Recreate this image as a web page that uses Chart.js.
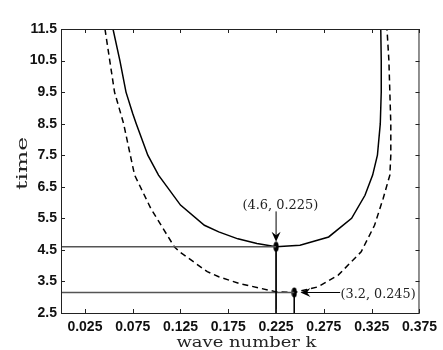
<!DOCTYPE html>
<html>
<head>
<meta charset="utf-8">
<script src="https://cdn.jsdelivr.net/npm/chart.js@4.4.1/dist/chart.umd.min.js"></script>
<style>
html, body { margin:0; padding:0; background:#fff; }
#wrap { width:443px; height:350px; position:relative; }
</style>
</head>
<body>
<div id="wrap"><canvas id="chart"></canvas></div>
<script>
// solid curve
var kSolid    = [0.0544, 0.0616, 0.0680, 0.075, 0.0787, 0.0908, 0.102, 0.125, 0.150, 0.165, 0.185, 0.205, 0.225, 0.250, 0.280, 0.304, 0.318, 0.326, 0.331, 0.334, 0.335, 0.335, 0.3345];
var timeSolid = [11.5, 10.5, 9.5, 8.82, 8.5, 7.5, 6.87, 5.92, 5.28, 5.07, 4.85, 4.7, 4.6, 4.65, 4.91, 5.5, 6.23, 6.87, 7.5, 8.5, 9.5, 10.5, 11.5];
// dashed curve
var kDashed    = [0.046, 0.051, 0.056, 0.0655, 0.0725, 0.077, 0.094, 0.1185, 0.124, 0.153, 0.165, 0.186, 0.225, 0.244, 0.269, 0.290, 0.314, 0.328, 0.337, 0.344, 0.345, 0.345, 0.344, 0.343, 0.341];
var timeDashed = [11.5, 10.5, 9.5, 8.5, 7.5, 6.87, 5.81, 4.6, 4.44, 3.81, 3.65, 3.44, 3.17, 3.15, 3.33, 3.7, 4.44, 5.28, 6.13, 6.87, 7.5, 8.5, 9.5, 10.5, 11.5];
// marked minima
var markK      = [0.225, 0.244];
var markTime   = [4.6, 3.15];
var markLabels = ["(4.6, 0.225)", "(3.2, 0.245)"];
// ticks
var xTicks = [0.025, 0.075, 0.125, 0.175, 0.225, 0.275, 0.325, 0.375];
var yTicks = [2.5, 3.5, 4.5, 5.5, 6.5, 7.5, 8.5, 9.5, 10.5, 11.5];

var xMin = 0, xMax = 0.375, yMin = 2.5, yMax = 11.5;

function toPoints(xs, ys) {
    var pts = [];
    for (var i = 0; i < xs.length; i++) pts.push({x: xs[i], y: ys[i]});
    return pts;
}

// little upright ellipse for the marked points
var dot = document.createElement("canvas");
dot.width = 6; dot.height = 11;
(function() {
    var c = dot.getContext("2d");
    c.fillStyle = "#000";
    c.beginPath();
    c.ellipse(3, 5.5, 2.6, 5, 0, 0, Math.PI * 2);
    c.fill();
})();

var datasets = [];
for (var i = 0; i < markK.length; i++) {
    datasets.push({
        data: [{x: xMin, y: markTime[i]}, {x: markK[i], y: markTime[i]}],
        borderColor: "#555", borderWidth: 1.3, pointRadius: 0, showLine: true
    });
    datasets.push({
        data: [{x: markK[i], y: markTime[i]}, {x: markK[i], y: yMin}],
        borderColor: "#000", borderWidth: 1, pointRadius: 0, showLine: true
    });
}
datasets.push({
    data: toPoints(kSolid, timeSolid),
    borderColor: "#000", borderWidth: 1.5, pointRadius: 0, showLine: true, tension: 0
});
datasets.push({
    data: toPoints(kDashed, timeDashed),
    borderColor: "#000", borderWidth: 1.5, borderDash: [6, 4], pointRadius: 0, showLine: true, tension: 0
});
datasets.push({
    data: toPoints(markK, markTime),
    pointStyle: dot, pointRadius: 5, showLine: false
});

function arrow(ctx, x1, y1, x2, y2) {
    var a = Math.atan2(y2 - y1, x2 - x1);
    ctx.beginPath();
    ctx.moveTo(x1, y1);
    ctx.lineTo(x2 - Math.cos(a) * 5, y2 - Math.sin(a) * 5);
    ctx.stroke();
    ctx.save();
    ctx.translate(x2, y2);
    ctx.rotate(a);
    ctx.beginPath();
    ctx.moveTo(0, 0);
    ctx.lineTo(-10, -4.5);
    ctx.lineTo(-6.5, 0);
    ctx.lineTo(-10, 4.5);
    ctx.closePath();
    ctx.fill();
    ctx.restore();
}

function fitText(ctx, text, x, y, width, align) {
    var w = ctx.measureText(text).width;
    var s = width / w;
    ctx.save();
    ctx.translate(x, y);
    ctx.scale(s, 1);
    ctx.textAlign = align;
    ctx.fillText(text, 0, 0);
    ctx.restore();
}

var decor = {
    id: "decor",
    afterDatasetsDraw: function(chart) {
        var ctx = chart.ctx, a = chart.chartArea;
        var xs = chart.scales.x, ys = chart.scales.y;
        ctx.save();
        // box and inward ticks
        ctx.strokeStyle = "#222";
        ctx.lineWidth = 1;
        ctx.strokeRect(a.left + 0.5, a.top + 0.5, a.right - a.left - 1, a.bottom - a.top);
        ctx.beginPath();
        xTicks.forEach(function(v) {
            var p = Math.round(xs.getPixelForValue(v)) + 0.5;
            ctx.moveTo(p, a.bottom); ctx.lineTo(p, a.bottom - 4);
            ctx.moveTo(p, a.top); ctx.lineTo(p, a.top + 4);
        });
        yTicks.forEach(function(v) {
            var p = Math.round(ys.getPixelForValue(v)) + 0.5;
            ctx.moveTo(a.left, p); ctx.lineTo(a.left + 4, p);
            ctx.moveTo(a.right, p); ctx.lineTo(a.right - 4, p);
        });
        ctx.stroke();

        // annotations
        ctx.strokeStyle = "#000";
        ctx.fillStyle = "#000";
        ctx.lineWidth = 1;
        var px0 = xs.getPixelForValue(markK[0]);
        arrow(ctx, px0, ys.getPixelForValue(5.72), px0, ys.getPixelForValue(4.76));
        var py1 = ys.getPixelForValue(markTime[1]);
        arrow(ctx, xs.getPixelForValue(0.292), py1, xs.getPixelForValue(0.2505), py1);

        ctx.fillStyle = "#222";
        ctx.font = "13px 'DejaVu Serif'";
        ctx.textBaseline = "alphabetic";
        fitText(ctx, markLabels[0], xs.getPixelForValue(0.2295), 209, 76, "center");
        fitText(ctx, markLabels[1], xs.getPixelForValue(0.2925), 297.5, 75, "left");

        // axis titles
        ctx.font = "15px 'DejaVu Serif'";
        fitText(ctx, "wave number k", 246.5, 346.5, 140, "center");
        ctx.translate(26.5, 163.5);
        ctx.rotate(-Math.PI / 2);
        fitText(ctx, "time", 0, 0, 53, "center");
        ctx.restore();
    }
};

new Chart(document.getElementById("chart"), {
    type: "scatter",
    data: { datasets: datasets },
    options: {
        responsive: true,
        maintainAspectRatio: false,
        animation: false,
        layout: { padding: { top: 29, right: 21, left: 0, bottom: 0 } },
        plugins: { legend: { display: false }, tooltip: { enabled: false } },
        scales: {
            x: {
                type: "linear", min: xMin, max: xMax,
                grid: { display: false, drawTicks: false }, border: { display: false },
                afterBuildTicks: function(s) { s.ticks = xTicks.map(function(v) { return {value: v}; }); },
                afterFit: function(s) { s.height = 37; },
                ticks: {
                    padding: 6, color: "#111", maxRotation: 0, autoSkip: false,
                    font: { family: "'Liberation Sans', Arial, sans-serif", size: 14, weight: "bold" },
                    callback: function(v) { return v.toFixed(3); }
                }
            },
            y: {
                type: "linear", min: yMin, max: yMax,
                grid: { display: false, drawTicks: false }, border: { display: false },
                afterBuildTicks: function(s) { s.ticks = yTicks.map(function(v) { return {value: v}; }); },
                afterFit: function(s) { s.width = 61; },
                ticks: {
                    padding: 4, color: "#111", autoSkip: false,
                    font: { family: "'Liberation Sans', Arial, sans-serif", size: 14, weight: "bold" },
                    callback: function(v) { return v.toFixed(1); }
                }
            }
        }
    },
    plugins: [decor]
});
</script>
</body>
</html>
